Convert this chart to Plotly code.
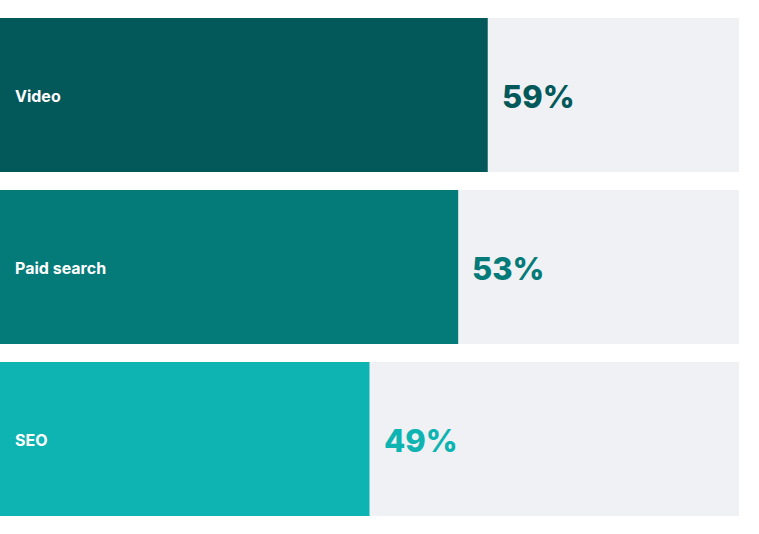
import plotly.graph_objects as go

categories = ["Video", "Paid search", "SEO"]
values = [59, 53, 49]            # displayed percentages
bar_fill = [66, 62, 50]          # drawn bar length, % of track (as in the picture)
track = [100, 100, 100]
colors = ["#03595A", "#047B78", "#0DB4B2"]
track_color = "#F0F1F4"

fig = go.Figure()
fig.add_trace(go.Bar(y=categories, x=track, orientation="h",
                     marker=dict(color=track_color, line=dict(width=0)),
                     hoverinfo="skip", showlegend=False))
fig.add_trace(go.Bar(y=categories, x=bar_fill, orientation="h",
                     marker=dict(color=colors, line=dict(width=0)),
                     showlegend=False))

for cat, v, f, c in zip(categories, values, bar_fill, colors):
    fig.add_annotation(x=0, y=cat, text=cat, showarrow=False, xanchor="left",
                       xshift=13, yshift=-1,
                       font=dict(family="Inter", size=16, color="white", weight=700))
    fig.add_annotation(x=f, y=cat, text=f"{v}%", showarrow=False, xanchor="left",
                       xshift=12, yshift=-1,
                       font=dict(family="Inter", size=31, color=c, weight=800))

fig.update_layout(
    width=759, height=534,
    margin=dict(l=0, r=20, t=9, b=9),
    barmode="overlay", bargap=18/172,
    paper_bgcolor="white", plot_bgcolor="white",
    xaxis=dict(range=[0, 100], visible=False, fixedrange=True),
    yaxis=dict(autorange="reversed", visible=False, fixedrange=True),
)
fig.write_html("out.html", config={"displayModeBar": False},
               post_script="document.body.style.margin='0';")
